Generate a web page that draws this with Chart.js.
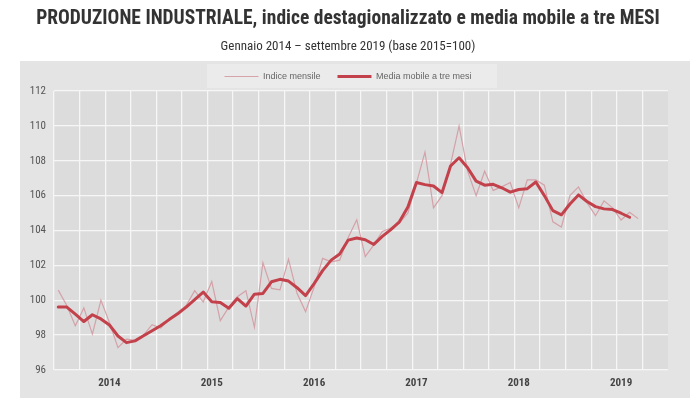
<!DOCTYPE html>
<html><head><meta charset="utf-8">
<script src="https://cdn.jsdelivr.net/npm/chart.js@4.4.1/dist/chart.umd.min.js"></script>
<style>html,body{margin:0;padding:0;background:#fff;}</style>
</head><body>
<canvas id="c" width="696" height="414"></canvas>
<script>
// ---- data ----
const years = ['2014', '2015', '2016', '2017', '2018', '2019'];
const monthNames = ['gen', 'feb', 'mar', 'apr', 'mag', 'giu', 'lug', 'ago', 'set', 'ott', 'nov', 'dic'];

// Indice mensile (gen 2014 - set 2019)
const indiceMensile = [
  100.58, 99.7, 98.54, 99.56, 98.06, 100.0, 98.73, 97.28, 97.77, 97.7, 98.0, 98.6,
  98.4, 98.9, 99.3, 99.7, 100.55, 99.9, 101.07, 98.83, 99.6, 100.2, 100.55, 98.45,
  102.15, 100.68, 100.6, 102.35, 100.4, 99.35, 100.75, 102.4, 102.2, 102.3, 103.6, 104.62,
  102.5, 103.18, 103.95, 104.14, 104.43, 105.0, 106.72, 108.5, 105.3, 106.0, 107.8, 110.0,
  107.4, 106.0, 107.4, 106.3, 106.5, 106.75, 105.3, 106.9, 106.9, 106.6, 104.5, 104.2,
  106.0, 106.5, 105.6, 104.85, 105.7, 105.3, 104.6, 105.05, 104.68
];

// Media mobile a tre mesi (centrata: ultimo valore ago 2019)
const mediaMobile = [
  99.61, 99.61, 99.2, 98.78, 99.17, 98.93, 98.58, 97.95, 97.57, 97.67, 97.96, 98.25,
  98.54, 98.89, 99.22, 99.61, 100.04, 100.47, 99.92, 99.87, 99.54, 100.1, 99.67, 100.35,
  100.39, 101.06, 101.2, 101.1, 100.72, 100.27, 100.95, 101.7, 102.3, 102.65, 103.45, 103.57,
  103.47, 103.2, 103.66, 104.05, 104.5, 105.35, 106.75, 106.63, 106.55, 106.17, 107.7, 108.17,
  107.6, 106.83, 106.6, 106.65, 106.45, 106.2, 106.35, 106.4, 106.78, 106.0, 105.14, 104.9,
  105.52, 106.04, 105.66, 105.37, 105.24, 105.2, 104.99, 104.76, null
];

const yTicks = { min: 96, max: 112, step: 2 };

// month categories gen 2014 .. dic 2019
const categories = [];
years.forEach(y => monthNames.forEach(m => categories.push(m + ' ' + y)));

const NARROW = "'Liberation Sans Narrow','Arial Narrow','Roboto Condensed',Roboto,'Liberation Sans',sans-serif";
const GRID = '#f6f6f6';

const bgPlugin = {
  id: 'bg',
  beforeDraw(chart) {
    const { ctx, chartArea: a } = chart;
    ctx.save();
    ctx.fillStyle = '#ffffff';
    ctx.fillRect(0, 0, chart.width, chart.height);
    ctx.fillStyle = '#e4e4e4';
    ctx.fillRect(20, 61, 670, 337);
    ctx.fillStyle = '#ebebeb';
    ctx.fillRect(207, 64, 290, 24);
    ctx.fillStyle = '#dcdcdc';
    ctx.fillRect(a.left, a.top, a.right - a.left, a.bottom - a.top);
    ctx.restore();
  }
};

new Chart(document.getElementById('c'), {
  type: 'line',
  data: {
    labels: categories,
    datasets: [
      {
        label: 'Indice mensile',
        data: indiceMensile,
        borderColor: 'rgba(210,150,160,0.85)',
        backgroundColor: 'rgba(210,150,160,0.85)',
        borderWidth: 1.2,
        pointRadius: 0,
        pointBorderWidth: 1.2,
        tension: 0,
        order: 1
      },
      {
        label: 'Media mobile a tre mesi',
        data: mediaMobile,
        borderColor: '#c3414b',
        backgroundColor: '#c3414b',
        borderWidth: 3,
        pointRadius: 0,
        pointBorderWidth: 3,
        tension: 0,
        borderJoinStyle: 'round',
        borderCapStyle: 'round',
        order: 0
      }
    ]
  },
  options: {
    responsive: false,
    animation: false,
    devicePixelRatio: 1,
    layout: { padding: 0 },
    plugins: {
      title: {
        display: true,
        text: 'PRODUZIONE INDUSTRIALE, indice destagionalizzato e media mobile a tre MESI',
        color: '#333',
        font: { family: NARROW, size: 19.5, weight: 'bold' },
        padding: { top: 7, bottom: 3 }
      },
      subtitle: {
        display: true,
        text: 'Gennaio 2014 \u2013 settembre 2019 (base 2015=100)',
        color: '#333',
        font: { family: NARROW, size: 13, weight: 'normal' },
        padding: { top: 6, bottom: 0 }
      },
      legend: {
        display: true,
        position: 'top',
        labels: {
          usePointStyle: true,
          pointStyle: 'line',
          pointStyleWidth: 34,
          boxHeight: 9,
          padding: 17,
          color: '#666',
          font: { family: "'Liberation Sans',sans-serif", size: 9 },
          sort: (a, b) => a.datasetIndex - b.datasetIndex
        }
      },
      tooltip: { enabled: false }
    },
    scales: {
      x: {
        type: 'category',
        offset: true,
        grid: {
          offset: true,
          drawTicks: false,
          color: ctx => (ctx.index % 3 === 0 ? GRID : 'rgba(0,0,0,0)'),
          lineWidth: 1.3
        },
        border: { display: false },
        ticks: {
          autoSkip: false,
          maxRotation: 0,
          minRotation: 0,
          padding: 7,
          color: '#444',
          font: { family: NARROW, size: 11, weight: 'bold' },
          callback: (v, i) => (i % 12 === 6 ? years[Math.floor(i / 12)] : '')
        },
        afterFit: s => { s.height = 44; }
      },
      y: {
        min: yTicks.min,
        max: yTicks.max,
        ticks: { stepSize: yTicks.step, padding: 8, color: '#555', font: { family: NARROW, size: 11 } },
        grid: { drawTicks: false, color: GRID, lineWidth: 1.3 },
        border: { display: false },
        afterFit: s => { s.width = 54; }
      },
      yR: {
        position: 'right',
        display: true,
        grid: { display: false },
        ticks: { display: false },
        border: { display: false },
        afterFit: s => { s.width = 28; }
      }
    }
  },
  plugins: [bgPlugin]
});
</script>
</body></html>
